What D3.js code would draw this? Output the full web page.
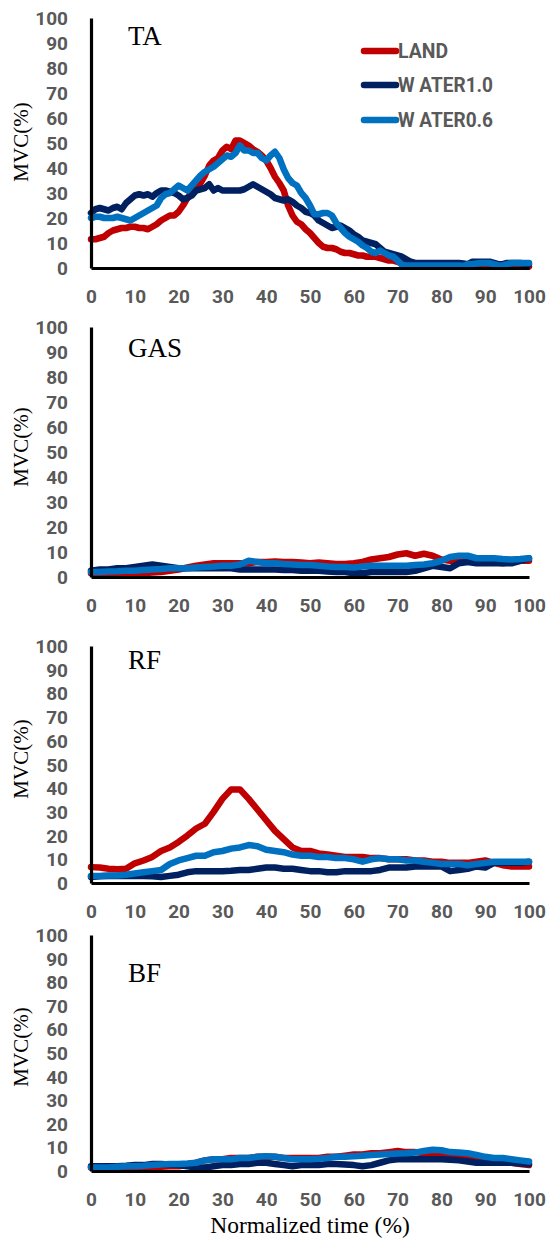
<!DOCTYPE html>
<html>
<head>
<meta charset="utf-8">
<script src="https://cdn.jsdelivr.net/npm/d3@7"></script>
<style>
  html, body { margin: 0; padding: 0; background: #ffffff; }
  svg { display: block; }
</style>
</head>
<body>
<svg id="chart" width="547" height="1238"></svg>
<script>
// ---- data -------------------------------------------------------------
const seriesNames = ["LAND", "WATER1.0", "WATER0.6"];
const legendLabels = ["LAND", "W ATER1.0", "W ATER0.6"];
const muscles = ["TA", "GAS", "RF", "BF"];
const yTicks = [0, 10, 20, 30, 40, 50, 60, 70, 80, 90, 100];
const xTicks = [0, 10, 20, 30, 40, 50, 60, 70, 80, 90, 100];

// normalized time samples (%)
const timeFine = d3.range(0, 101, 1);
const timeCoarse = d3.range(0, 101, 2);

// TA (every 1 %)
const taLand = [
  11.5, 11.5, 12, 12.5, 14, 15, 15.5, 16, 16, 16.5,
  16.5, 16, 16, 15.5, 16.5, 17.5, 19, 20, 21, 21,
  22.5, 25, 28, 30, 32, 34, 37, 41, 43, 44,
  47, 48.5, 47.5, 51, 51, 50, 49, 47.5, 46.5, 45,
  43, 40, 36.5, 34, 31, 25, 21, 18.5, 17.5, 15.5,
  14, 12, 10, 8.5, 8, 8, 7.5, 6.5, 6, 6,
  5.5, 5, 5, 4.5, 4.5, 4.5, 4, 3.5, 3, 3,
  2.5, 2, 1.5, 1.5, 1.5, 1, 1, 1, 1, 1,
  1, 1, 1, 1, 0.8, 0.8, 1, 1.2, 1.5, 1.5,
  1.5, 1.5, 1, 0.8, 0.8, 1, 1, 1, 1, 0.8, 0.5
];
const taWater10 = [
  22, 23.5, 24, 23.5, 23, 24, 24.5, 23.5, 26, 27.5,
  29, 29.5, 29, 29.5, 28.5, 30, 31, 31, 30.5, 30,
  29, 27.5, 28, 29, 31, 31.5, 32, 33.5, 31, 32,
  31, 31, 31, 31, 31, 31.5, 32.5, 33.5, 32.5, 31.5,
  30.5, 29.5, 28, 27.5, 27, 27.5, 26.5, 25, 24, 22.5,
  22, 21, 19, 18, 17, 16, 16.5, 17, 16, 15,
  13.5, 12.5, 11, 10.5, 10, 9.5, 8, 6.5, 6, 5.5,
  5, 4.5, 3.5, 2.5, 2, 2, 2, 2, 2, 2,
  2, 2, 2, 2, 2, 1.8, 1.5, 2.5, 2.5, 2.5,
  2.5, 2.5, 2, 1.5, 1.5, 2, 2, 2, 2, 1.8, 1.5
];
const taWater06 = [
  20, 20.5, 20.5, 20, 20, 20, 20.5, 20, 19.5, 19,
  20, 21, 22, 23, 24, 25, 28, 29.5, 30, 31.5,
  33, 32, 31, 33, 35, 37, 38.5, 39.5, 40.5, 42,
  43.5, 45, 44.5, 46, 49, 47, 47, 46, 46, 44,
  43, 45, 46.5, 44, 39.5, 36, 34, 33, 30, 28,
  25, 21.5, 21.5, 22, 22, 21, 18, 16, 14, 12.5,
  11.5, 10.5, 9, 8, 6.5, 6, 7, 6, 5, 4.5,
  3, 1.2, 1, 1, 1, 1, 1, 1, 1, 1,
  1, 1, 1, 1, 1, 0.8, 1.5, 1.5, 1.8, 2,
  2, 2, 1.5, 1, 1, 1.5, 2, 2, 2, 2, 2
];

// GAS (every 2 %)
const gasLand = [
  1.5, 1.5, 1.5, 1.5, 1.5, 1.5, 1.5, 1.8, 2, 2.5,
  3, 3.8, 4.5, 5, 5.5, 5.5, 5.5, 5.5, 5.5, 6,
  6, 6.2, 6, 6, 5.8, 5.5, 5.8, 5.5, 5.2, 5.2,
  5.5, 6, 7, 7.5, 8, 9, 9.5, 8.5, 9.3, 8.5,
  7, 6.5, 6.5, 6.5, 6.5, 6, 6, 5.5, 6, 6.5, 6.5
];
const gasWater10 = [
  2.5, 3, 3, 3.5, 3.5, 4, 4.5, 5, 4.5, 4,
  3.5, 3.5, 3.5, 3.5, 3.5, 3.5, 3.5, 3, 3, 3,
  3, 3, 2.8, 2.8, 2.5, 2.5, 2.5, 2.2, 2, 2,
  1.5, 1.5, 2, 2, 2, 2, 2, 2.5, 3.5, 4.5,
  4, 3.5, 5.5, 6, 5.5, 5.5, 5.5, 5.5, 5.5, 6.5, 7.5
];
const gasWater06 = [
  2, 2, 2.2, 2.3, 2.5, 2.5, 2.8, 3, 3.2, 3.5,
  3.5, 3.5, 3.8, 4, 4.2, 4.5, 4.5, 5, 6.5, 6,
  5.5, 5.5, 5.2, 5, 4.8, 4.8, 4.5, 4.2, 4, 4,
  3.8, 4.2, 4.5, 4.5, 4.5, 4.5, 4.5, 4.8, 5, 5.5,
  6.5, 8, 8.5, 8.5, 7.5, 7.5, 7.5, 7.2, 7, 7.2, 7.5
];

// RF (every 2 %)
const rfLand = [
  6.7, 6.5, 6, 5.8, 6, 8.3, 9.5, 11, 13.5, 15,
  17.3, 20, 23, 25, 30, 35.5, 39.5, 39.5, 35.5, 31,
  26.5, 22, 18.5, 15, 13.5, 13.5, 12.5, 12, 11.5, 11,
  11, 11, 10.5, 10.5, 10, 10, 10, 9.5, 9.5, 9,
  9, 8.5, 8.5, 8.5, 9, 9.5, 8.5, 7.5, 7, 7, 7
];
const rfWater10 = [
  2.5, 2.8, 3, 3, 3, 3, 3, 2.8, 2.5, 3,
  3.5, 4.5, 5, 5, 5, 5, 5.2, 5.5, 5.5, 6,
  6.5, 6.5, 6, 6, 5.5, 5, 5, 4.5, 4.5, 5,
  5, 5, 5, 5.5, 6.5, 6.5, 6.5, 7, 7, 7,
  7, 5, 5.5, 6, 7, 6.5, 8.5, 8.5, 8.5, 8.5, 9
];
const rfWater06 = [
  3, 3, 3.2, 3.2, 3.5, 4, 4.5, 5, 5.5, 8,
  9.5, 10.5, 11.5, 11.5, 13, 13.5, 14.5, 15, 16, 15.5,
  14, 13.5, 13, 12, 11.5, 11.5, 11, 11, 10.5, 10.5,
  10, 9, 10, 10.5, 10, 10, 9.5, 9.5, 9, 8.5,
  8, 8, 8, 7.5, 8, 8.5, 9, 9, 9, 9, 9
];

// BF (every 2 %)
const bfLand = [
  1.5, 1.5, 1.5, 1.5, 1.5, 1.5, 1.5, 1.5, 1.8, 2,
  2, 2.5, 3.5, 4.5, 5, 5, 5.5, 5.5, 5.5, 6,
  6, 6, 5.5, 5.5, 5.5, 5.5, 5.5, 6, 6, 6.5,
  7, 7, 7.5, 7.5, 8, 8.5, 8, 8, 7.5, 7,
  6.5, 6, 5.5, 5, 4.5, 4, 4, 3.5, 3.5, 3, 2.5
];
const bfWater10 = [
  2, 2, 2, 2, 2.2, 2.5, 2.5, 3, 3, 2.8,
  2.5, 2, 1.5, 1.5, 2, 2.5, 2.5, 3, 3, 3.5,
  3.5, 3, 2.5, 2, 2.5, 2.5, 2.5, 3, 3, 2.8,
  2.5, 2, 2.5, 3.5, 4.5, 5, 5, 5, 5, 5,
  5, 4.8, 4.5, 4, 3.5, 3.5, 3.5, 3.5, 3.5, 3.2, 3
];
const bfWater06 = [
  1.5, 1.5, 1.5, 1.8, 2, 2, 2.2, 2.5, 2.8, 3,
  3, 3.2, 3.5, 4.5, 5, 5, 5, 5.5, 5.5, 6,
  6.3, 6, 5.5, 5, 5, 5, 5.2, 5.5, 6, 6,
  6.2, 6.5, 6.8, 7, 7.2, 7.4, 7.5, 7.8, 8.5, 9,
  8.8, 8, 7.8, 7.5, 6.8, 6, 5.5, 5.5, 5, 4.5, 4
];

const colors = ["#C00000", "#002060", "#0070C0"];

// ---- layout -----------------------------------------------------------
const panels = [
  { name: muscles[0], time: timeFine,   values: [taLand, taWater10, taWater06],
    top: 18,  bottom: 268,  titleBase: 45,  yLabelMid: 142 },
  { name: muscles[1], time: timeCoarse, values: [gasLand, gasWater10, gasWater06],
    top: 327, bottom: 577,  titleBase: 357, yLabelMid: 447 },
  { name: muscles[2], time: timeCoarse, values: [rfLand, rfWater10, rfWater06],
    top: 646, bottom: 883,  titleBase: 669, yLabelMid: 759 },
  { name: muscles[3], time: timeCoarse, values: [bfLand, bfWater10, bfWater06],
    top: 935, bottom: 1171, titleBase: 982, yLabelMid: 1047 }
];

const svg = d3.select("#chart");
const x = d3.scaleLinear().domain([0, 100]).range([91, 529]);

const tickFont = "Roboto, 'Liberation Sans', sans-serif";
const serifFont = "'Liberation Serif', 'DejaVu Serif', serif";
const tickColor = "#595959";

panels.forEach((p) => {
  const y = d3.scaleLinear().domain([0, 100]).range([p.bottom, p.top]);
  const g = svg.append("g").attr("class", "panel");

  // series lines (drawn first so the axis frame sits on top)
  const line = d3.line()
    .x(d => x(d[0]))
    .y(d => y(d[1]));

  p.values.forEach((vals, si) => {
    const pts = p.time.map((t, i) => [t, vals[i]]);
    g.append("path")
      .datum(pts)
      .attr("d", line)
      .attr("fill", "none")
      .attr("stroke", colors[si])
      .attr("stroke-width", 6.5)
      .attr("stroke-linejoin", "round")
      .attr("stroke-linecap", "round");
  });

  // y axis
  const yAxis = d3.axisLeft(y).tickValues(yTicks).tickSize(0).tickSizeOuter(0).tickPadding(23);
  const gy = g.append("g").attr("transform", `translate(${x(0)},0)`).call(yAxis);
  gy.select(".domain").attr("stroke", "#000").attr("stroke-width", 3.2);
  gy.selectAll("text")
    .attr("dy", null)
    .attr("dominant-baseline", "central")
    .attr("fill", tickColor)
    .style("font-family", tickFont)
    .style("font-weight", "700")
    .style("font-size", "19px");

  // x axis
  const xAxis = d3.axisBottom(x).tickValues(xTicks).tickSize(0).tickSizeOuter(0);
  const gx = g.append("g").attr("transform", `translate(0,${p.bottom})`).call(xAxis);
  gx.select(".domain").attr("stroke", "#000").attr("stroke-width", 3.2);
  gx.selectAll("text")
    .attr("dy", null)
    .attr("y", 28.5)
    .attr("dominant-baseline", "central")
    .attr("fill", tickColor)
    .style("font-family", tickFont)
    .style("font-weight", "700")
    .style("font-size", "19px");

  gy.attr("font-family", null).attr("font-size", null);
  gx.attr("font-family", null).attr("font-size", null);

  // muscle name
  g.append("text")
    .attr("x", 128)
    .attr("y", p.titleBase)
    .attr("fill", "#000")
    .style("font-family", serifFont)
    .style("font-size", "27px")
    .text(p.name);

  // y label
  g.append("text")
    .attr("transform", `translate(21,${p.yLabelMid}) rotate(-90)`)
    .attr("text-anchor", "middle")
    .attr("dominant-baseline", "central")
    .attr("fill", "#000")
    .style("font-family", serifFont)
    .style("font-size", "21px")
    .text("MVC(%)");
});

// x axis title
svg.append("text")
  .attr("x", 310)
  .attr("y", 1233)
  .attr("text-anchor", "middle")
  .attr("fill", "#000")
  .style("font-family", serifFont)
  .style("font-size", "23.5px")
  .text("Normalized time (%)");

// legend
const legendRows = [51, 85, 120];
const legendWidths = [50, 95, 95];
const legend = svg.append("g").attr("class", "legend");
seriesNames.forEach((name, i) => {
  legend.append("line")
    .attr("x1", 364).attr("x2", 396)
    .attr("y1", legendRows[i]).attr("y2", legendRows[i])
    .attr("stroke", colors[i])
    .attr("stroke-width", 6.5)
    .attr("stroke-linecap", "round");
  legend.append("text")
    .attr("x", 398)
    .attr("y", legendRows[i])
    .attr("dominant-baseline", "central")
    .attr("fill", tickColor)
    .attr("textLength", legendWidths[i])
    .attr("lengthAdjust", "spacingAndGlyphs")
    .style("font-family", tickFont)
    .style("font-weight", "700")
    .style("font-size", "21px")
    .text(legendLabels[i]);
});
</script>
</body>
</html>
